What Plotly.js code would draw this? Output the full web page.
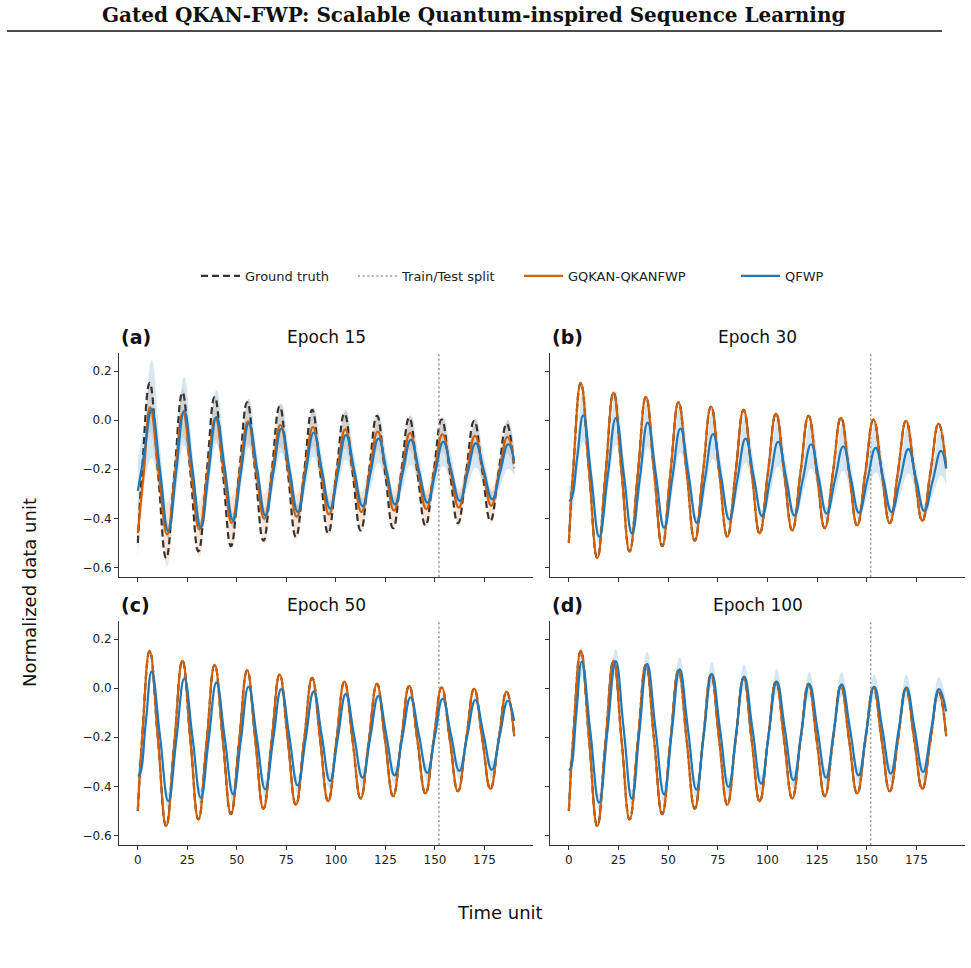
<!DOCTYPE html>
<html>
<head>
<meta charset="utf-8">
<script src="https://cdn.plot.ly/plotly-3.0.1.min.js"></script>
<style>
  html, body { margin: 0; padding: 0; background: #ffffff; }
  #fig { width: 971px; height: 968px; }
</style>
</head>
<body>
<div id="fig"></div>
<script>
// ---------------------------------------------------------------
// Series: samples at every peak, trough and half-way crossing
// ---------------------------------------------------------------
const trainTestSplit = 152;
const epochTitles = ['Epoch 15', 'Epoch 30', 'Epoch 50', 'Epoch 100'];
const panelTags = ['(a)', '(b)', '(c)', '(d)'];
const xTicks = [0, 25, 50, 75, 100, 125, 150, 175];
const yTicks = [-0.6, -0.4, -0.2, 0.0, 0.2];
const legendNames = ['Ground truth', 'Train/Test split', 'GQKAN-QKANFWP', 'QFWP'];

// ground truth (damped oscillation)
const truthT = [0, 2.2, 6.0, 10.15, 14.3, 18.4, 22.5, 26.55, 30.6, 34.7, 38.8, 42.9,
  47.0, 51.1, 55.2, 59.3, 63.4, 67.5, 71.6, 75.7, 79.8, 83.9, 88.0, 92.05,
  96.1, 100.2, 104.3, 108.4, 112.5, 116.6, 120.7, 124.8, 128.9, 132.95, 137.0, 141.1,
  145.2, 149.3, 153.4, 157.5, 161.6, 165.7, 169.8, 173.9, 178.0, 182.1, 186.2, 190];
const truthV = [-0.500, -0.200, 0.152, -0.205, -0.562, -0.225, 0.113, -0.211, -0.535, -0.220, 0.095, -0.209,
  -0.513, -0.220, 0.073, -0.209, -0.491, -0.218, 0.056, -0.210, -0.475, -0.217, 0.042, -0.210,
  -0.461, -0.217, 0.027, -0.211, -0.449, -0.216, 0.018, -0.211, -0.440, -0.215, 0.010, -0.210,
  -0.429, -0.213, 0.003, -0.209, -0.420, -0.212, -0.003, -0.207, -0.410, -0.212, -0.014, -0.195];

// (a) epoch 15 - GQKAN-QKANFWP mean and spread
const gqA_T = [0, 3.1, 6.2, 10.5, 14.8, 18.8, 22.8, 26.9, 31.0, 35.1, 39.2, 43.3,
  47.4, 51.5, 55.6, 59.7, 63.8, 67.9, 72.0, 76.1, 80.2, 84.3, 88.4, 92.45,
  96.5, 100.6, 104.7, 108.8, 112.9, 117.0, 121.1, 125.2, 129.3, 133.35, 137.4, 141.5,
  145.6, 149.7, 153.8, 157.9, 162.0, 166.1, 170.2, 174.3, 178.4, 182.5, 186.6, 190];
const gqA_V = [-0.460, -0.204, 0.052, -0.207, -0.465, -0.218, 0.030, -0.208, -0.445, -0.219, 0.008, -0.205,
  -0.418, -0.212, -0.005, -0.203, -0.401, -0.211, -0.020, -0.207, -0.393, -0.211, -0.028, -0.206,
  -0.384, -0.211, -0.037, -0.206, -0.374, -0.210, -0.046, -0.207, -0.368, -0.210, -0.052, -0.207,
  -0.362, -0.210, -0.058, -0.207, -0.356, -0.210, -0.064, -0.206, -0.348, -0.208, -0.068, -0.172];
const gqA_S = [0.10, 0.08, 0.10, 0.08, 0.13, 0.08, 0.10, 0.07, 0.115, 0.07, 0.09, 0.07,
  0.105, 0.065, 0.09, 0.065, 0.10, 0.06, 0.09, 0.06, 0.09, 0.06, 0.08, 0.06,
  0.085, 0.06, 0.08, 0.06, 0.08, 0.055, 0.075, 0.055, 0.08, 0.055, 0.07, 0.055,
  0.075, 0.055, 0.07, 0.05, 0.075, 0.05, 0.07, 0.05, 0.07, 0.05, 0.07, 0.05];

// (a) epoch 15 - QFWP mean and spread
const qfA_T = [0, 3.5, 7.0, 11.2, 15.4, 19.4, 23.4, 27.6, 31.8, 35.75, 39.7, 43.9,
  48.1, 52.1, 56.1, 60.25, 64.4, 68.45, 72.5, 76.65, 80.8, 84.8, 88.8, 92.95,
  97.1, 101.1, 105.1, 109.3, 113.5, 117.5, 121.5, 125.65, 129.8, 133.8, 137.8, 142.0,
  146.2, 150.2, 154.2, 158.35, 162.5, 166.55, 170.6, 174.75, 178.9, 182.95, 187.0, 190];
const qfA_V = [-0.288, -0.122, 0.045, -0.204, -0.452, -0.207, 0.038, -0.200, -0.438, -0.213, 0.013, -0.198,
  -0.408, -0.210, -0.012, -0.200, -0.388, -0.211, -0.034, -0.204, -0.374, -0.212, -0.050, -0.205,
  -0.360, -0.211, -0.061, -0.206, -0.350, -0.213, -0.075, -0.209, -0.343, -0.212, -0.080, -0.208,
  -0.336, -0.212, -0.088, -0.209, -0.329, -0.212, -0.094, -0.208, -0.322, -0.210, -0.098, -0.166];
const qfA_S = [0.13, 0.12, 0.20, 0.10, 0.03, 0.08, 0.14, 0.07, 0.03, 0.07, 0.11, 0.06,
  0.03, 0.06, 0.10, 0.06, 0.03, 0.06, 0.10, 0.06, 0.03, 0.06, 0.10, 0.06,
  0.03, 0.06, 0.10, 0.06, 0.03, 0.06, 0.10, 0.06, 0.03, 0.06, 0.10, 0.06,
  0.03, 0.06, 0.10, 0.06, 0.03, 0.06, 0.10, 0.06, 0.03, 0.06, 0.10, 0.06];

// (b) epoch 30 - QFWP
const qfB_T = [0, 1.2, 4.2,
  7.2, 11.25, 15.3, 19.5, 23.7, 27.75, 31.8, 35.75, 39.7, 43.85, 48.0, 52.1,
  56.2, 60.35, 64.5, 68.55, 72.6, 76.7, 80.8, 84.9, 89.0, 93.15, 97.3, 101.35,
  105.4, 109.5, 113.6, 117.8, 122.0, 125.9, 129.8, 134.0, 138.2, 142.15, 146.1, 150.3,
  154.5, 158.5, 162.5, 166.75, 171.0, 175.0, 179.0, 183.2, 187.4, 190];
const qfB_V = [-0.329, -0.322, -0.151,
  0.020, -0.228, -0.475, -0.233, 0.009, -0.226, -0.461, -0.236, -0.010, -0.224, -0.438, -0.236,
  -0.034, -0.226, -0.418, -0.238, -0.057, -0.231, -0.404, -0.240, -0.075, -0.233, -0.391, -0.240,
  -0.088, -0.238, -0.388, -0.243, -0.098, -0.239, -0.380, -0.244, -0.107, -0.242, -0.377, -0.245,
  -0.113, -0.244, -0.374, -0.246, -0.118, -0.244, -0.370, -0.248, -0.125, -0.196];
const qfB_S = [0.06, 0.06, 0.07,
  0.11, 0.06, 0.03, 0.06, 0.11, 0.06, 0.025, 0.06, 0.10, 0.06, 0.025, 0.06,
  0.10, 0.06, 0.025, 0.06, 0.10, 0.06, 0.025, 0.06, 0.10, 0.06, 0.025, 0.06,
  0.10, 0.06, 0.025, 0.06, 0.10, 0.06, 0.025, 0.06, 0.10, 0.06, 0.025, 0.06,
  0.10, 0.06, 0.025, 0.06, 0.10, 0.06, 0.025, 0.06, 0.10, 0.07];

// (c) epoch 50 - QFWP
const qfC_T = [0, 1.0, 4.0,
  7.0, 11.2, 15.4, 19.45, 23.5, 27.65, 31.8, 35.75, 39.7, 43.9, 48.1, 52.0,
  55.9, 60.1, 64.3, 68.35, 72.4, 76.55, 80.7, 84.75, 88.8, 92.9, 97.0, 101.0,
  105.0, 109.2, 113.4, 117.4, 121.4, 125.5, 129.6, 133.65, 137.7, 141.9, 146.1, 150.0,
  153.9, 158.1, 162.3, 166.35, 170.4, 174.55, 178.7, 182.75, 186.8, 190];
const qfC_V = [-0.355, -0.350, -0.141,
  0.068, -0.196, -0.460, -0.210, 0.040, -0.203, -0.446, -0.212, 0.023, -0.205, -0.432, -0.213,
  0.006, -0.203, -0.412, -0.208, -0.004, -0.200, -0.396, -0.205, -0.014, -0.196, -0.378, -0.201,
  -0.024, -0.194, -0.364, -0.198, -0.032, -0.194, -0.355, -0.196, -0.037, -0.191, -0.345, -0.194,
  -0.043, -0.190, -0.337, -0.193, -0.048, -0.190, -0.332, -0.192, -0.051, -0.133];
const qfC_S = [0.05, 0.05, 0.04,
  0.015, 0.025, 0.035, 0.025, 0.015, 0.025, 0.035, 0.025, 0.015, 0.025, 0.035, 0.025,
  0.015, 0.025, 0.035, 0.025, 0.015, 0.025, 0.035, 0.025, 0.015, 0.025, 0.035, 0.025,
  0.015, 0.025, 0.035, 0.025, 0.015, 0.025, 0.035, 0.025, 0.015, 0.025, 0.035, 0.025,
  0.015, 0.025, 0.035, 0.025, 0.015, 0.025, 0.035, 0.025, 0.015, 0.02];

// (d) epoch 100 - QFWP
const qfD_T = [0, 1.0, 3.7,
  6.5, 10.85, 15.2, 19.4, 23.6, 27.65, 31.7, 35.55, 39.4, 43.65, 47.9, 51.85,
  55.8, 60.0, 64.2, 68.1, 72.0, 76.2, 80.4, 84.35, 88.3, 92.55, 96.8, 100.75,
  104.7, 108.9, 113.1, 117.1, 121.1, 125.3, 129.5, 133.45, 137.4, 141.65, 145.9, 149.85,
  153.8, 157.95, 162.1, 166.05, 170.0, 174.2, 178.4, 182.4, 186.4, 190];
const qfD_V = [-0.334, -0.325, -0.109,
  0.108, -0.179, -0.466, -0.178, 0.111, -0.170, -0.450, -0.176, 0.099, -0.167, -0.432, -0.178,
  0.077, -0.168, -0.413, -0.178, 0.058, -0.172, -0.402, -0.178, 0.047, -0.171, -0.389, -0.181,
  0.027, -0.174, -0.375, -0.180, 0.016, -0.174, -0.364, -0.174, 0.016, -0.170, -0.355, -0.175,
  0.006, -0.171, -0.348, -0.172, 0.004, -0.169, -0.341, -0.173, -0.004, -0.095];
const qfD_S = [0.03, 0.03, 0.04,
  0.06, 0.03, 0.035, 0.03, 0.05, 0.03, 0.035, 0.03, 0.05, 0.03, 0.035, 0.03,
  0.05, 0.03, 0.035, 0.03, 0.05, 0.03, 0.035, 0.03, 0.05, 0.03, 0.035, 0.03,
  0.05, 0.03, 0.035, 0.03, 0.05, 0.03, 0.035, 0.03, 0.05, 0.03, 0.035, 0.03,
  0.05, 0.03, 0.035, 0.03, 0.05, 0.03, 0.035, 0.03, 0.05, 0.04];

// From epoch 30 on, the GQKAN-QKANFWP prediction lies on the ground truth
const gqLateT = truthT;
const gqLateV = truthV;

// ---------------------------------------------------------------
// Figure
// ---------------------------------------------------------------
const W = 971, H = 968;
const X_RANGE = [-9.5, 199.5];
const Y_RANGE = [-0.639, 0.274];

const COL_TRUTH = '#333333';
const COL_SPLIT = '#9a9a9a';
const COL_GQ = '#d55e00';
const COL_QF = '#1f78b8';
const FILL_GQ = 'rgba(213,94,0,0.16)';
const FILL_QF = 'rgba(31,120,184,0.18)';
const SANS = 'DejaVu Sans, Arial, sans-serif';

const px = v => v / W;
const py = v => 1 - v / H;

// plot boxes in pixels: [left, right, top, bottom]
const boxes = [
  [119, 533, 353, 577],
  [550, 965, 353, 577],
  [119, 533, 621, 845],
  [550, 965, 621, 845]
];

const panels = [
  { gq: { t: gqA_T, v: gqA_V, s: gqA_S }, qf: { t: qfA_T, v: qfA_V, s: qfA_S } },
  { gq: { t: gqLateT, v: gqLateV },       qf: { t: qfB_T, v: qfB_V, s: qfB_S } },
  { gq: { t: gqLateT, v: gqLateV },       qf: { t: qfC_T, v: qfC_V, s: qfC_S } },
  { gq: { t: gqLateT, v: gqLateV },       qf: { t: qfD_T, v: qfD_V, s: qfD_S } }
];

const SPL = { shape: 'spline', smoothing: 1.3 };

function bandTraces(series, fill, xa, ya) {
  const up = series.v.map((y, i) => y + series.s[i]);
  const lo = series.v.map((y, i) => y - series.s[i]);
  return [
    { x: series.t, y: up, xaxis: xa, yaxis: ya, type: 'scatter', mode: 'lines',
      line: Object.assign({ width: 0, color: fill }, SPL), hoverinfo: 'skip', showlegend: false },
    { x: series.t, y: lo, xaxis: xa, yaxis: ya, type: 'scatter', mode: 'lines',
      line: Object.assign({ width: 0, color: fill }, SPL), fill: 'tonexty', fillcolor: fill,
      hoverinfo: 'skip', showlegend: false }
  ];
}

const traces = [];
panels.forEach((p, i) => {
  const xa = i === 0 ? 'x' : 'x' + (i + 1);
  const ya = i === 0 ? 'y' : 'y' + (i + 1);
  const first = i === 0;
  if (p.gq.s) traces.push(...bandTraces(p.gq, FILL_GQ, xa, ya));
  traces.push(...bandTraces(p.qf, FILL_QF, xa, ya));
  traces.push({
    x: truthT, y: truthV, xaxis: xa, yaxis: ya, type: 'scatter', mode: 'lines',
    name: legendNames[0], legendgroup: 'truth', showlegend: first, legendwidth: 103,
    line: Object.assign({ color: COL_TRUTH, width: 2.2, dash: '7px,4px' }, SPL)
  });
  traces.push({
    x: [trainTestSplit, trainTestSplit], y: Y_RANGE, xaxis: xa, yaxis: ya, type: 'scatter', mode: 'lines',
    name: legendNames[1], legendgroup: 'split', showlegend: first, legendwidth: 112,
    line: { color: COL_SPLIT, width: 1.6, dash: '2px,2.6px' }
  });
  traces.push({
    x: p.gq.t, y: p.gq.v, xaxis: xa, yaxis: ya, type: 'scatter', mode: 'lines',
    name: legendNames[2], legendgroup: 'gq', showlegend: first, legendwidth: 163,
    line: Object.assign({ color: COL_GQ, width: 2.2 }, SPL)
  });
  traces.push({
    x: p.qf.t, y: p.qf.v, xaxis: xa, yaxis: ya, type: 'scatter', mode: 'lines',
    name: legendNames[3], legendgroup: 'qf', showlegend: first,
    line: Object.assign({ color: COL_QF, width: 2.2 }, SPL)
  });
});

function xAxis(i) {
  const b = boxes[i];
  return {
    domain: [px(b[0]), px(b[1])], anchor: i === 0 ? 'y' : 'y' + (i + 1),
    range: X_RANGE, tickmode: 'array', tickvals: xTicks, showticklabels: i >= 2,
    ticks: 'outside', ticklen: 4, tickwidth: 1, tickcolor: '#333',
    showline: true, linecolor: '#333', linewidth: 1, mirror: false,
    showgrid: false, zeroline: false,
    tickfont: { family: SANS, size: 12, color: '#222' }
  };
}
function yAxis(i) {
  const b = boxes[i];
  return {
    domain: [py(b[3]), py(b[2])], anchor: i === 0 ? 'x' : 'x' + (i + 1),
    range: Y_RANGE, tickmode: 'array', tickvals: yTicks, tickformat: '.1f',
    showticklabels: i % 2 === 0,
    ticks: 'outside', ticklen: 4, tickwidth: 1, tickcolor: '#333',
    showline: true, linecolor: '#333', linewidth: 1, mirror: false,
    showgrid: false, zeroline: false,
    tickfont: { family: SANS, size: 12, color: '#222' }
  };
}

const annotations = [];
boxes.forEach((b, i) => {
  const yTitle = i < 2 ? 337 : 605;
  annotations.push({
    xref: 'paper', yref: 'paper', x: px(b[0]), y: py(yTitle), xanchor: 'left', yanchor: 'middle',
    text: '<b>' + panelTags[i] + '</b>', showarrow: false,
    font: { family: SANS, size: 19, color: '#111' }
  });
  annotations.push({
    xref: 'paper', yref: 'paper', x: px((b[0] + b[1]) / 2), y: py(yTitle), xanchor: 'center', yanchor: 'middle',
    text: epochTitles[i], showarrow: false,
    font: { family: SANS, size: 17, color: '#111' }
  });
});
annotations.push({
  xref: 'paper', yref: 'paper', x: px(29), y: py(593), xanchor: 'center', yanchor: 'middle',
  text: 'Normalized data unit', textangle: -90, showarrow: false,
  font: { family: SANS, size: 18, color: '#111' }
});
annotations.push({
  xref: 'paper', yref: 'paper', x: px(500), y: py(912), xanchor: 'center', yanchor: 'middle',
  text: 'Time unit', showarrow: false,
  font: { family: SANS, size: 18, color: '#111' }
});
annotations.push({
  xref: 'paper', yref: 'paper', x: px(473), y: py(15), xanchor: 'center', yanchor: 'middle',
  text: '<b>Gated QKAN-FWP: Scalable Quantum-inspired Sequence Learning</b>', showarrow: false,
  font: { family: 'DejaVu Serif, Liberation Serif, serif', size: 20, color: '#111' }
});

const layout = {
  width: W, height: H,
  margin: { l: 0, r: 0, t: 0, b: 0 },
  paper_bgcolor: '#ffffff', plot_bgcolor: '#ffffff',
  showlegend: true,
  legend: {
    orientation: 'h', x: px(196), y: py(276), xanchor: 'left', yanchor: 'middle',
    itemwidth: 39, bgcolor: 'rgba(0,0,0,0)', borderwidth: 0,
    font: { family: SANS, size: 13, color: '#222' }
  },
  annotations: annotations,
  shapes: [{
    type: 'line', xref: 'paper', yref: 'paper',
    x0: px(7), x1: px(942), y0: py(31), y1: py(31),
    line: { color: '#111', width: 1.6 }
  }]
};
for (let i = 0; i < 4; i++) {
  layout[i === 0 ? 'xaxis' : 'xaxis' + (i + 1)] = xAxis(i);
  layout[i === 0 ? 'yaxis' : 'yaxis' + (i + 1)] = yAxis(i);
}

Plotly.newPlot('fig', traces, layout, { staticPlot: true, displayModeBar: false });
</script>
</body>
</html>
